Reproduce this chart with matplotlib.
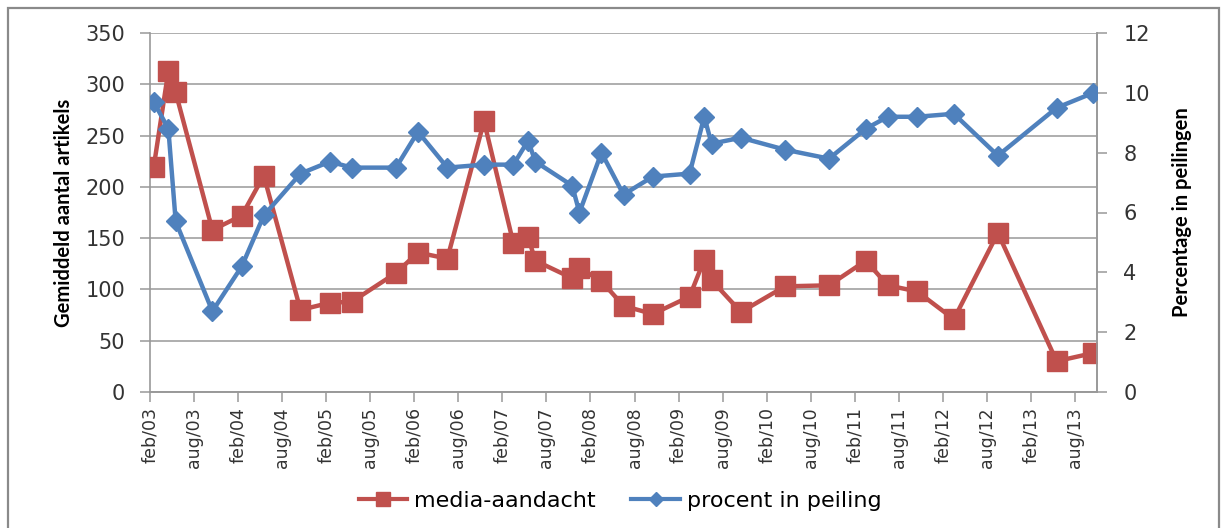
import pandas as pd
import matplotlib.pyplot as plt
from matplotlib.lines import Line2D
from matplotlib.patches import Rectangle

# meetmomenten (maand van de peiling)
maanden = ["2003-02", "2003-04", "2003-05", "2003-10", "2004-02", "2004-05",
           "2004-10", "2005-02", "2005-05", "2005-11", "2006-02", "2006-06",
           "2006-11", "2007-03", "2007-05", "2007-06", "2007-11", "2007-12",
           "2008-03", "2008-06", "2008-10", "2009-03", "2009-05", "2009-06",
           "2009-10", "2010-04", "2010-10", "2011-03", "2011-06", "2011-10",
           "2012-03", "2012-09", "2013-05", "2013-10"]

media_aandacht = [219, 313, 292, 158, 172, 211, 80, 87, 88, 116, 136, 130,
                  264, 145, 151, 128, 111, 121, 108, 84, 76, 93, 129, 109,
                  78, 103, 104, 128, 104, 98, 71, 155, 30, 38]

procent_peiling = [9.7, 8.8, 5.7, 2.7, 4.2, 5.9, 7.3, 7.7, 7.5, 7.5, 8.7, 7.5,
                   7.6, 7.6, 8.4, 7.7, 6.9, 6.0, 8.0, 6.6, 7.2, 7.3, 9.2, 8.3,
                   8.5, 8.1, 7.8, 8.8, 9.2, 9.2, 9.3, 7.9, 9.5, 10.0]

tick_labels = ["feb/03", "aug/03", "feb/04", "aug/04", "feb/05", "aug/05",
               "feb/06", "aug/06", "feb/07", "aug/07", "feb/08", "aug/08",
               "feb/09", "aug/09", "feb/10", "aug/10", "feb/11", "aug/11",
               "feb/12", "aug/12", "feb/13", "aug/13"]

ROOD = "#C0504D"
BLAUW = "#4F81BD"
GRIJS = "#999999"
TEKST = "#333333"

# maanden sinds feb/03, punt in het midden van de maand
d = pd.to_datetime(maanden, format="%Y-%m")
x = (d.year - 2003) * 12 + (d.month - 2) + 0.5
n_maanden = int(round(x.max() + 0.5))

fig = plt.figure(figsize=(12.23, 5.28), dpi=100)
fig.patch.set_facecolor("white")

# kader rond de grafiek
fig.patches.append(Rectangle((8 / 1223, -0.05), 1211 / 1223, 1.05 - 8 / 528,
                             transform=fig.transFigure, fill=False,
                             edgecolor="#8A8A8A", linewidth=1.6))

ax = fig.add_axes([150 / 1223, 1 - 392 / 528, 947 / 1223, 359 / 528])
ax2 = ax.twinx()

ax.plot(x, media_aandacht, color=ROOD, linewidth=3.2, marker="s",
        markersize=14, zorder=3, label="media-aandacht")
ax2.plot(x, procent_peiling, color=BLAUW, linewidth=3.2, marker="D",
         markersize=10.5, zorder=3, label="procent in peiling")

ax.set_xlim(0, n_maanden)
ax.set_ylim(0, 350)
ax2.set_ylim(0, 12)
ax.set_yticks(range(0, 351, 50))
ax2.set_yticks(range(0, 13, 2))
ax.set_xticks(range(0, 6 * len(tick_labels), 6))
ax.set_xticklabels(tick_labels, rotation=90)

ax.yaxis.grid(True, color=GRIJS, linewidth=1.1)
ax.set_axisbelow(True)

for a in (ax, ax2):
    a.spines["top"].set_visible(False)
    for s in ("left", "right", "bottom"):
        a.spines[s].set_color(GRIJS)
        a.spines[s].set_linewidth(1.2)
    a.tick_params(axis="both", colors=GRIJS, labelcolor=TEKST, width=1.1,
                  length=7, labelsize=15)
ax.tick_params(axis="x", labelsize=12.5, pad=4)
ax.tick_params(axis="y", pad=11)
ax2.tick_params(axis="y", pad=12)
ax2.spines["left"].set_visible(False)

titel_font = dict(family=["Lato", "DejaVu Sans"],
                  fontweight="bold", fontsize=14.5, color="black")
ax.set_ylabel("Gemiddeld aantal artikels", labelpad=8, **titel_font)
ax2.set_ylabel("Percentage in peilingen", labelpad=16, **titel_font)

handles = [
    Line2D([], [], color=ROOD, linewidth=3, marker="s", markersize=10),
    Line2D([], [], color=BLAUW, linewidth=3, marker="D", markersize=7),
]
fig.legend(handles, ["media-aandacht", "procent in peiling"],
           loc="center", bbox_to_anchor=(0.507, 0.052), ncol=2, frameon=False,
           handlelength=2.2, columnspacing=1.6, handletextpad=0.3,
           prop={"family": ["DejaVu Sans"], "size": 16})

fig.savefig("out.png", dpi=100)
